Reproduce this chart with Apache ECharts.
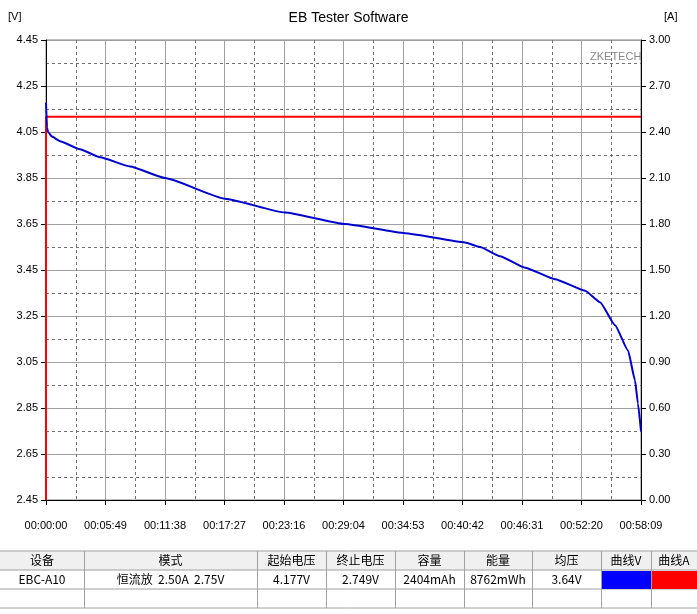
<!DOCTYPE html>
<html><head><meta charset="utf-8">
<script src="https://cdn.jsdelivr.net/npm/echarts@6/dist/echarts.min.js"></script>
<style>html,body{margin:0;padding:0;background:#fff}#c{width:697px;height:614px}</style>
</head><body><div id="c"></div>
<script>
const timeSec = [0,6,12,35,82,199,317,493,698,1050,1401,1753,2105,2457,2545,2662,2809,2985,3161,3249,3337,3413,3454,3471,3489];
const voltage = [4.177,4.07,4.05,4.03,4.01,3.975,3.94,3.90,3.85,3.76,3.70,3.65,3.61,3.57,3.55,3.51,3.46,3.41,3.36,3.31,3.21,3.10,2.97,2.87,2.749];
const currentTime = [0,0,3489];
const currentVal = [0,2.5,2.5];
const headers = ['设备','模式','起始电压','终止电压','容量','能量','均压','曲线V','曲线A'];
const row1 = ['EBC-A10','恒流放  2.50A  2.75V','4.177V','2.749V','2404mAh','8762mWh','3.64V','',''];
const colEdges = [0,84,257,326,395,464,532,601,651,697];

function fmt(s){s=Math.round(s-0.01);const h=Math.floor(s/3600),m=Math.floor(s%3600/60),x=s%60;const p=n=>String(n).padStart(2,'0');return p(h)+':'+p(m)+':'+p(x);}
const F='"Liberation Sans", Arial, sans-serif', CJK='"Noto Sans CJK SC", sans-serif';
const L=46,R=641,T=40,B=500;
const graphic=[
 {type:'text',left:'center',top:11,style:{text:'EB Tester Software',font:'14px '+F,fill:'#000'}},
 {type:'text',left:8,top:11,style:{text:'[V]',font:'11px '+F,fill:'#000'}},
 {type:'text',left:664,top:11,style:{text:'[A]',font:'11px '+F,fill:'#000'}},
 {type:'text',left:590,top:51,style:{text:'ZKETECH',font:'11px '+F,fill:'#888'}},
 {type:'rect',shape:{x:0,y:551,width:697,height:19},style:{fill:'#f0f0f0'}},
];
[551,570,589,608].forEach(y=>graphic.push({type:'line',shape:{x1:0,y1:y,x2:697,y2:y},style:{stroke:'#a0a0a0',lineWidth:1}}));
colEdges.slice(1,-1).forEach(x=>graphic.push({type:'line',shape:{x1:x+.5,y1:551,x2:x+.5,y2:608},style:{stroke:'#a0a0a0',lineWidth:1}}));
for(let i=0;i<9;i++){
 const cx=(colEdges[i]+colEdges[i+1])/2;
 graphic.push({type:'text',x:cx,y:560.5,style:{text:headers[i],font:'12px '+CJK,fill:'#000',align:'center',verticalAlign:'middle'}});
 if(row1[i])graphic.push({type:'text',x:cx,y:579.5,style:{text:row1[i],font:'12px '+CJK,fill:'#000',align:'center',verticalAlign:'middle'}});
}
graphic.push({type:'rect',shape:{x:602,y:571,width:49,height:18},style:{fill:'#0000ff'}});
graphic.push({type:'rect',shape:{x:652,y:571,width:45,height:18},style:{fill:'#ff0000'}});

const chart=echarts.init(document.getElementById('c'));
chart.setOption({
 animation:false,
 grid:{left:L,right:697-R,top:T,bottom:614-B,show:true,borderColor:'#808080',borderWidth:1},
 graphic,
 xAxis:{type:'value',min:0,max:3489,interval:348.9,offset:10,
  axisLine:{lineStyle:{color:'#000'}},axisTick:{show:true,length:5,lineStyle:{color:'#000'}},
  axisLabel:{formatter:v=>fmt(v),color:'#000',fontSize:11,fontFamily:F,margin:10},
  splitLine:{show:true,lineStyle:{color:'#a0a0a0',width:1}},
  minorTick:{show:false,splitNumber:2},
  minorSplitLine:{show:true,lineStyle:{color:'#707070',type:[3,3]}}},
 yAxis:[
  {type:'value',min:2.45,max:4.45,interval:0.2,
   axisLine:{show:true,lineStyle:{color:'#000'}},axisTick:{show:true,length:5,lineStyle:{color:'#000'}},
   axisLabel:{formatter:v=>v.toFixed(2),color:'#000',fontSize:11,fontFamily:F},
   splitLine:{show:true,lineStyle:{color:'#a0a0a0',width:1}},
   minorTick:{show:false,splitNumber:2},
   minorSplitLine:{show:true,lineStyle:{color:'#707070',type:[3,3]}}},
  {type:'value',min:0,max:3,interval:0.3,position:'right',
   axisLine:{show:true,lineStyle:{color:'#000'}},axisTick:{show:true,length:5,lineStyle:{color:'#000'}},
   axisLabel:{formatter:v=>v.toFixed(2),color:'#000',fontSize:11,fontFamily:F},
   splitLine:{show:false}}
 ],
 series:[
  {type:'line',yAxisIndex:1,data:currentTime.map((t,i)=>[t,currentVal[i]]),showSymbol:false,lineStyle:{color:'#ff0000',width:2},z:2},
  {type:'line',yAxisIndex:0,data:timeSec.map((t,i)=>[t,voltage[i]]),smooth:0.15,smoothMonotone:'x',showSymbol:false,lineStyle:{color:'#0000cc',width:2},z:3}
 ]
});
</script></body></html>
